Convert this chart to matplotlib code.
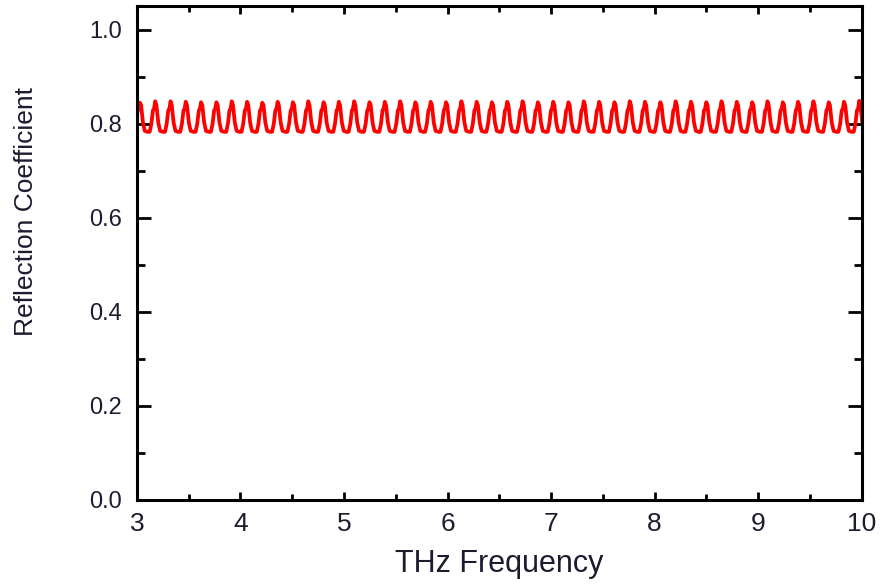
import matplotlib.pyplot as plt
import numpy as np

# частоты максимумов (THz)
peak_freq = [3.029, 3.177, 3.325, 3.472, 3.620, 3.768, 3.916, 4.064, 4.211, 4.359,
             4.507, 4.655, 4.803, 4.950, 5.098, 5.246, 5.394, 5.542, 5.689, 5.837,
             5.985, 6.133, 6.281, 6.428, 6.576, 6.724, 6.872, 7.020, 7.167, 7.315,
             7.463, 7.611, 7.759, 7.906, 8.054, 8.202, 8.350, 8.498, 8.645, 8.793,
             8.941, 9.089, 9.237, 9.384, 9.532, 9.680, 9.828, 9.975]
# высота максимумов
peak_val = [0.845, 0.848, 0.848, 0.847, 0.846, 0.846, 0.848, 0.847, 0.845, 0.847,
            0.846, 0.848, 0.846, 0.847, 0.848, 0.846, 0.847, 0.848, 0.846, 0.847,
            0.846, 0.848, 0.847, 0.846, 0.847, 0.848, 0.846, 0.847, 0.846, 0.848,
            0.847, 0.846, 0.848, 0.847, 0.846, 0.848, 0.847, 0.846, 0.848, 0.847,
            0.846, 0.848, 0.846, 0.847, 0.848, 0.846, 0.847, 0.849]
period = 0.1478  # THz, расстояние между максимумами

# форма одного периода: смещение (доля периода) и значение
cycle_offset = [-0.5, -0.36, -0.25, -0.15, -0.07, 0.0, 0.08, 0.2, 0.32]
cycle_value = [0.783, 0.783, 0.800, 0.828, 0.833, None, 0.840, 0.803, 0.785]

x = []
y = []
for f, p in zip(peak_freq, peak_val):
    for o, v in zip(cycle_offset, cycle_value):
        x.append(f + o * period)
        y.append(p if v is None else v)
x.append(peak_freq[-1] + 0.5 * period)
y.append(0.783)

plt.rcParams['font.family'] = ['Liberation Sans', 'DejaVu Sans']

fig = plt.figure(figsize=(8.83, 5.86), dpi=100)
ax = fig.add_axes([0.155, 0.147, 0.821, 0.843])

ax.plot(x, y, color='#ff0000', lw=2.7)

ax.set_xlim(3, 10)
ax.set_ylim(0, 1.051)
ax.set_xticks([3, 4, 5, 6, 7, 8, 9, 10])
ax.set_xticks(np.arange(3.5, 10, 1.0), minor=True)
ax.set_yticks([0.0, 0.2, 0.4, 0.6, 0.8, 1.0])
ax.set_yticks([0.1, 0.3, 0.5, 0.7, 0.9], minor=True)
ax.set_yticklabels(['0.0', '0.2', '0.4', '0.6', '0.8', '1.0'])

for s in ax.spines.values():
    s.set_linewidth(2.2)

lab_col = '#1c1c30'
ax.tick_params(axis='x', which='both', direction='in', top=True, width=2.0,
               labelsize=19, pad=9, labelcolor=lab_col)
ax.tick_params(axis='x', which='major', length=6)
ax.tick_params(axis='x', which='minor', length=4)
ax.tick_params(axis='y', which='both', direction='in', right=True, width=2.0,
               labelsize=17, pad=11, labelcolor=lab_col)
ax.tick_params(axis='y', which='major', length=10)
ax.tick_params(axis='y', which='minor', length=6)

ax.set_xlabel('THz Frequency', fontsize=22, color=lab_col, va='center')
ax.set_ylabel('Reflection Coefficient', fontsize=19, color=lab_col, va='center')
ax.xaxis.set_label_coords(0.5, -0.13)
ax.yaxis.set_label_coords(-0.153, 0.583)

plt.savefig('out.png', dpi=100)
